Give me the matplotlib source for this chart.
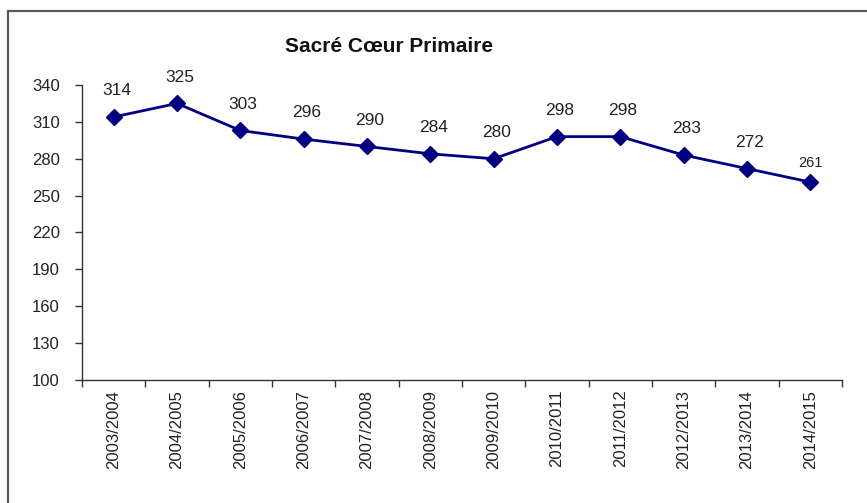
import numpy as np
import matplotlib.pyplot as plt
from matplotlib.patches import Rectangle
from matplotlib import font_manager

# data
years = ["2003/2004", "2004/2005", "2005/2006", "2006/2007", "2007/2008", "2008/2009",
         "2009/2010", "2010/2011", "2011/2012", "2012/2013", "2013/2014", "2014/2015"]
eleves = [314, 325, 303, 296, 290, 284, 280, 298, 298, 283, 272, 261]
yticks = [100, 130, 160, 190, 220, 250, 280, 310, 340]

plt.rcParams['font.family'] = ['Liberation Sans', 'DejaVu Sans']
names = set(f.name for f in font_manager.fontManager.ttflist)
narrow = 'Liberation Sans Narrow' if 'Liberation Sans Narrow' in names else 'Liberation Sans'

fig = plt.figure(figsize=(8.67, 5.03), dpi=100)
ax = fig.add_axes([82/867, 1-380/503, (842-82)/867, (380-85)/503])

# cadre gris autour du graphique
fig.patches.append(Rectangle((8/867, -0.05), 1.2, 1-11/503+0.05, transform=fig.transFigure,
                             fill=False, edgecolor='#5a5a5a', linewidth=1.6))

x = np.arange(len(years))
ax.plot(x, eleves, color='#000080', linewidth=2, marker='D', markersize=8.5, zorder=3)

for i, v in enumerate(eleves):
    if i == len(eleves) - 1:
        ax.annotate(str(v), (x[i], v), xytext=(0, 14), textcoords='offset points',
                    ha='center', va='center', fontsize=10.5, color='#222222')
    else:
        ax.annotate(str(v), (x[i], v), xytext=(2, 19), textcoords='offset points',
                    ha='center', va='center', fontsize=12.5, color='#222222')

ax.set_xlim(-0.5, len(years) - 0.5)
ax.set_ylim(100, 340)
ax.set_yticks(yticks)
ax.set_yticklabels([str(t) for t in yticks], fontsize=12, family=narrow, color='#222222')

# ticks entre les catégories, libellés au centre
ax.set_xticks(np.arange(-0.5, len(years), 1))
ax.set_xticklabels([])
ax.set_xticks(x, minor=True)
ax.set_xticklabels(years, minor=True, rotation=90, fontsize=12, color='#222222')
ax.tick_params(axis='x', which='major', direction='out', length=5, width=1, color='#333333')
ax.tick_params(axis='x', which='minor', length=0, pad=7)
ax.tick_params(axis='y', direction='out', length=5, width=1, color='#333333', pad=11)

for s in ['top', 'right']:
    ax.spines[s].set_visible(False)
for s in ['left', 'bottom']:
    ax.spines[s].set_color('#333333')
    ax.spines[s].set_linewidth(1)

fig.text(389/867, 1-46/503, "Sacré Cœur Primaire", ha='center', va='center',
         fontsize=15, fontweight='bold', color='#111111')

fig.savefig('out.png', dpi=100)
